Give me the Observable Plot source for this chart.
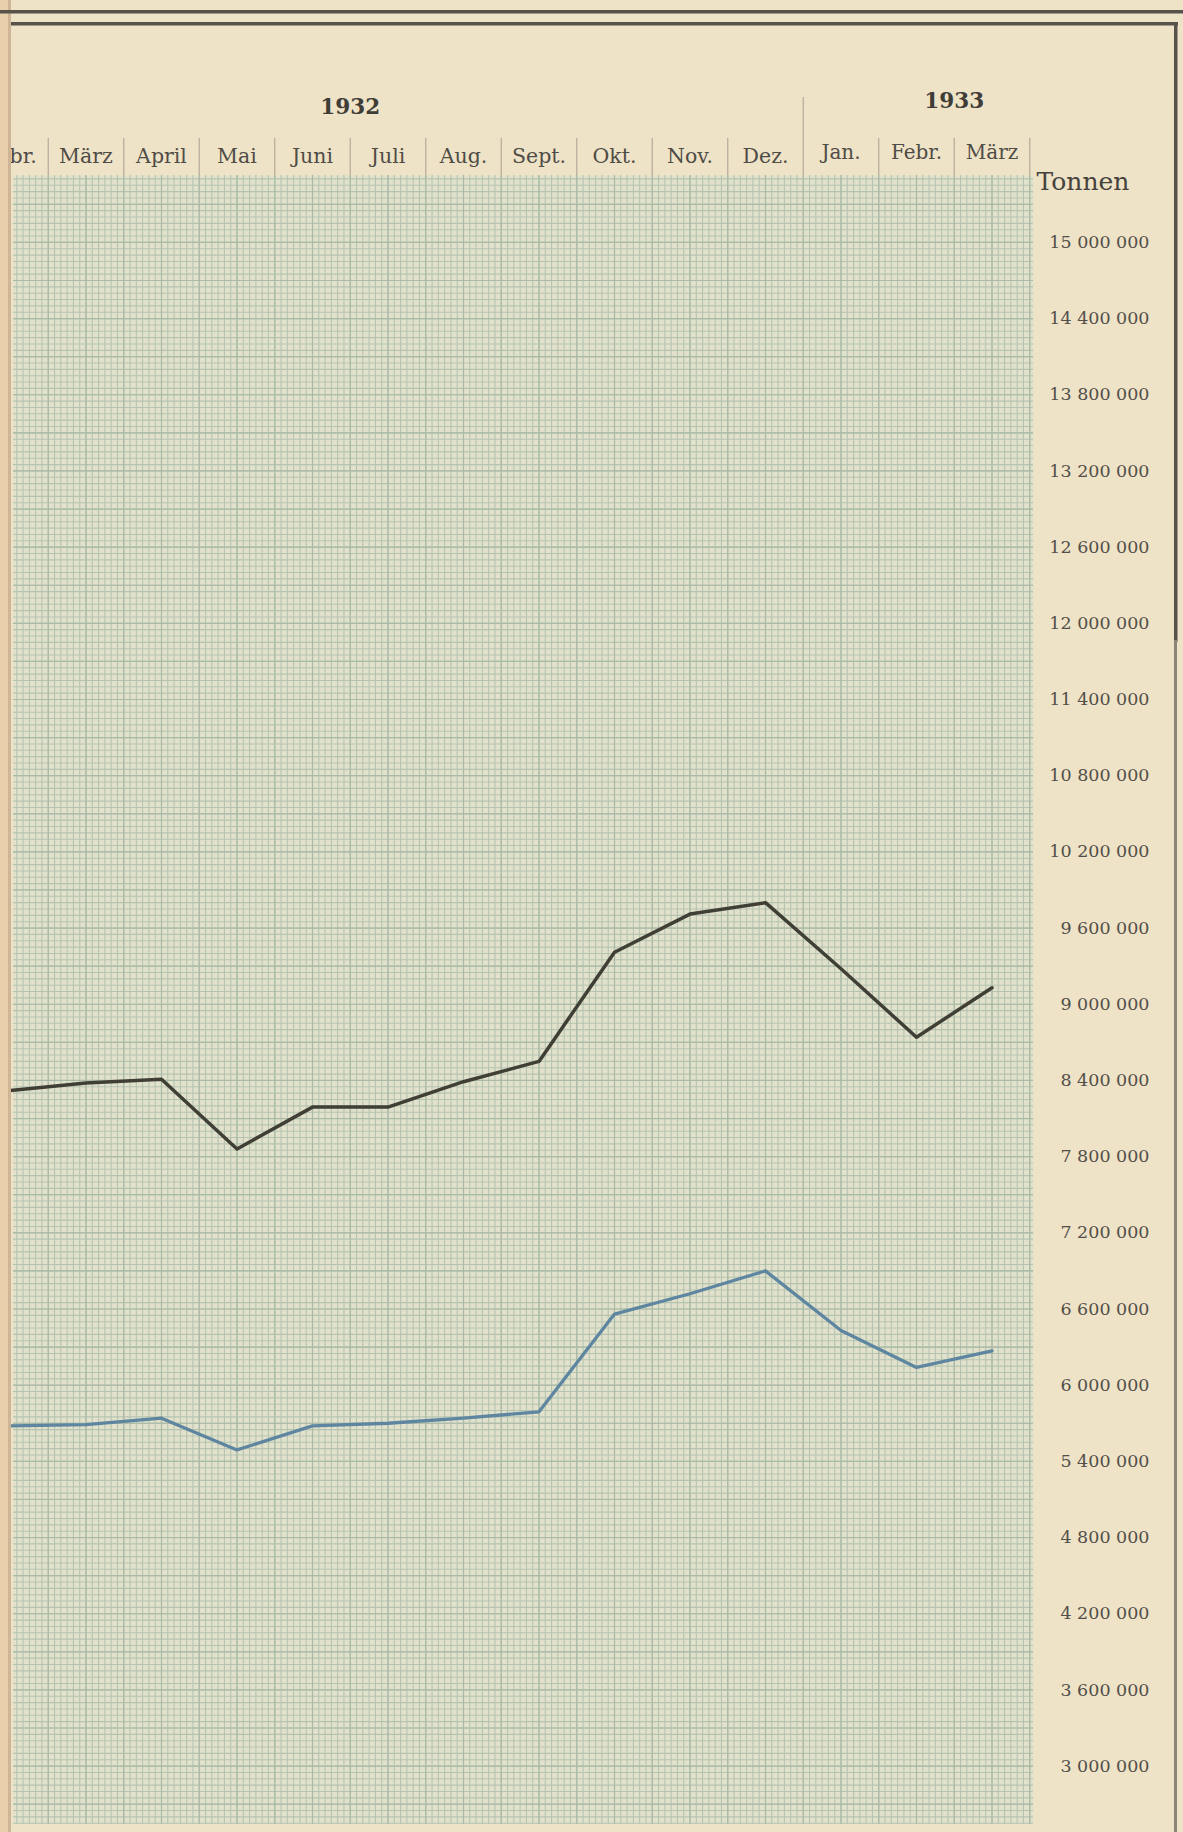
<!DOCTYPE html>
<html>
<head>
<meta charset="utf-8">
<script src="https://cdn.jsdelivr.net/npm/d3@7"></script>
<script src="https://cdn.jsdelivr.net/npm/@observablehq/plot@0.6"></script>
<style>
  html, body { margin: 0; padding: 0; background: #eee2c7; }
  #chart { position: absolute; left: 0; top: 0; }
</style>
</head>
<body>
<div id="chart"></div>
<script>
// ---- data ----
const months1932 = ["Febr.", "März", "April", "Mai", "Juni", "Juli", "Aug.", "Sept.", "Okt.", "Nov.", "Dez."];
const months1933 = ["Jan.", "Febr.", "März"];
const years = ["1932", "1933"];
// upper (dark) series, tonnes, Febr. 1932 .. März 1933
const seriesDark = [8320000, 8380000, 8410000, 7860000, 8190000, 8190000, 8390000, 8550000, 9410000, 9710000, 9800000, 9280000, 8740000, 9130000];
// lower (blue) series
const seriesBlue = [5680000, 5690000, 5740000, 5490000, 5680000, 5700000, 5740000, 5790000, 6560000, 6720000, 6900000, 6430000, 6140000, 6270000];
const yTicks = [15000000, 14400000, 13800000, 13200000, 12600000, 12000000, 11400000, 10800000, 10200000, 9600000, 9000000, 8400000, 7800000, 7200000, 6600000, 6000000, 5400000, 4800000, 4200000, 3600000, 3000000];
const unitLabel = "Tonnen";

// ---- derived tables ----
const darkRows = seriesDark.map((v, i) => ({i, v}));
const blueRows = seriesBlue.map((v, i) => ({i, v}));
const n1932 = months1932.length;

const W = 1183, H = 1832;
const gridTop = 175, gridBottomInset = 8, gridLeft = 13, gridRightInset = 150;

// grid lines: 12 small cells per month and per 600 000 t
const xMinor = d3.range(-0.5, 13.6, 1 / 12).filter(x => x > 0.04 && x < 13.55);
const yMinor = d3.range(2550000, 15550000, 50000);
const xMid = xMinor.filter(x => Math.abs((x + 0.5) * 2 - Math.round((x + 0.5) * 2)) < 1e-6);
const yMid = yMinor.filter(v => v % 300000 === 0);
const colBounds = d3.range(0.5, 13.6, 1);

const fmtSp = v => d3.format(",")(v).replace(/,/g, " ");

const textColor = "#4f4c46";

const plot = Plot.plot({
  width: W,
  height: H,
  margin: 0,
  x: {type: "linear", domain: [0, 13], range: [10, 991.5], axis: null},
  y: {type: "linear", domain: [3000000, 15000000], range: [1765.6, 241.9], axis: null},
  style: {background: "transparent", fontFamily: "'DejaVu Serif', serif", overflow: "visible"},
  marks: [
    // graph paper
    Plot.frame({fill: "#e2e2cc", stroke: "none", insetTop: gridTop, insetBottom: gridBottomInset, insetLeft: gridLeft, insetRight: gridRightInset}),
    Plot.ruleX(xMinor, {x: d => d, stroke: "#b5c4b1", strokeWidth: 1.1, insetTop: gridTop, insetBottom: gridBottomInset}),
    Plot.ruleY(yMinor, {y: d => d, stroke: "#b5c4b1", strokeWidth: 1.1, insetLeft: gridLeft, insetRight: gridRightInset}),
    Plot.ruleX(xMid, {x: d => d, stroke: "#a9baa7", strokeWidth: 1.2, insetTop: gridTop, insetBottom: gridBottomInset}),
    Plot.ruleY(yMid, {y: d => d, stroke: "#a9baa7", strokeWidth: 1.2, insetLeft: gridLeft, insetRight: gridRightInset}),
    // header separators
    Plot.ruleX(colBounds.filter(b => b !== n1932 - 0.5), {x: d => d, stroke: "#b3ac99", strokeWidth: 1.2, insetTop: 138, insetBottom: H - gridTop}),
    Plot.ruleX([n1932 - 0.5], {x: d => d, stroke: "#b3ac99", strokeWidth: 1.2, insetTop: 97, insetBottom: H - gridTop}),
    // month labels
    Plot.text(months1932, {x: (d, i) => i, text: d => d, frameAnchor: "top", dy: 148, fontSize: 20.5, fill: textColor}),
    Plot.text(months1933, {x: (d, i) => i + n1932, text: d => d, frameAnchor: "top", dy: 144, fontSize: 20, fill: textColor}),
    // year labels
    Plot.text([years[0]], {x: [(n1932 - 2) / 2], text: d => d, frameAnchor: "top", dy: 98, fontSize: 21.5, fontWeight: "bold", fill: "#403d37"}),
    Plot.text([years[1]], {x: [n1932 + 1.5], text: d => d, frameAnchor: "top", dy: 92, fontSize: 21.5, fontWeight: "bold", fill: "#403d37"}),
    // unit + y tick labels
    Plot.text([unitLabel], {frameAnchor: "top-left", dx: 1036, dy: 172, textAnchor: "start", fontSize: 25, fill: "#46433d"}),
    Plot.text(yTicks, {y: d => d, text: fmtSp, frameAnchor: "right", textAnchor: "end", dx: -34, fontSize: 17.5, fill: "#524f49"}),
    // series
    Plot.line(blueRows, {x: "i", y: "v", stroke: "#5f86a0", strokeWidth: 3.3, strokeLinejoin: "round"}),
    Plot.line(darkRows, {x: "i", y: "v", stroke: "#403f36", strokeWidth: 3.5, strokeLinejoin: "round"})
  ]
});

// page frame decorations
const svg = d3.select(plot);
const deco = svg.append("g");
deco.append("rect").attr("x", 0).attr("y", 0).attr("width", 11).attr("height", H).attr("fill", "#e9cfac");
deco.append("rect").attr("x", 8).attr("y", 0).attr("width", 3).attr("height", H).attr("fill", "#cdb595");
deco.append("rect").attr("x", 0).attr("y", 10).attr("width", W).attr("height", 3.5).attr("fill", "#57524a");
deco.append("rect").attr("x", 11).attr("y", 22).attr("width", 1167).attr("height", 3.5).attr("fill", "#57524a");
deco.append("rect").attr("x", 1174).attr("y", 22).attr("width", 3.5).attr("height", 620).attr("fill", "#57524a");
deco.append("rect").attr("x", 1174).attr("y", 640).attr("width", 3).attr("height", H - 640).attr("fill", "#8c8474");

document.getElementById("chart").appendChild(plot);
</script>
</body>
</html>
